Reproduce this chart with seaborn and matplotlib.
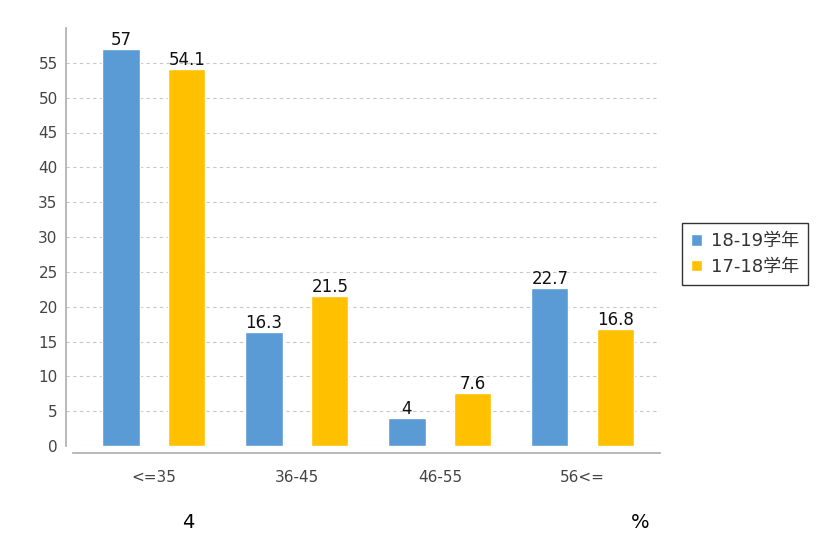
import numpy as np
import pandas as pd
import seaborn as sns
import matplotlib
matplotlib.use("Agg")
import matplotlib.pyplot as plt

# data
groups = ["<=35", "36-45", "46-55", "56<="]
series = ["18-19学年", "17-18学年"]
vals_1819 = [57, 16.3, 4, 22.7]
vals_1718 = [54.1, 21.5, 7.6, 16.8]
colors = ["#5B9BD5", "#FFC000"]

sns.set_theme(style="white")
plt.rcParams['font.family'] = ['DejaVu Sans', 'Noto Sans CJK SC']

df = pd.DataFrame({
    "group": groups * 2,
    "year": [series[0]] * 4 + [series[1]] * 4,
    "value": vals_1819 + vals_1718,
})

fig = plt.figure(figsize=(8.33, 5.51), dpi=100)
ax = fig.add_axes([66/833, 105/551, 594/833, 418/551])

sns.barplot(data=df, x="group", y="value", hue="year", order=groups,
            hue_order=series, palette=colors, width=0.92, gap=0.435,
            saturation=1, ax=ax, legend=True)

for c in ax.containers:
    ax.bar_label(c, fmt="%g", padding=0, fontsize=12, color="#111111")

ax.set_ylim(0, 60)
ax.set_xlim(-0.615, 3.54)
ax.set_yticks(np.arange(0, 56, 5))
ax.set_xlabel("")
ax.set_ylabel("")
ax.yaxis.grid(True, linestyle=(0, (3, 3)), color="#c8c8c8", linewidth=0.8)
ax.set_axisbelow(True)

for s in ["top", "right"]:
    ax.spines[s].set_visible(False)
ax.spines["left"].set_color("#b0b0b0")
ax.spines["bottom"].set_color("#b0b0b0")
ax.spines["bottom"].set_position(("outward", 5))
ax.spines["bottom"].set_bounds(-0.565, 3.54)
ax.tick_params(axis="y", length=3, color="#b0b0b0", labelsize=11, labelcolor="#444444", pad=3)
ax.tick_params(axis="x", length=4, color="#b0b0b0", labelsize=11, labelcolor="#444444", pad=8)

ax.legend(loc="center left", bbox_to_anchor=(682/833, 1 - 254/551), bbox_transform=fig.transFigure,
          frameon=True, fancybox=False, edgecolor="black", fontsize=13,
          handlelength=0.6, handleheight=0.6, handletextpad=0.5, borderpad=0.5,
          labelspacing=0.4, labelcolor="#333333", borderaxespad=0)
ax.get_legend().get_frame().set_linewidth(1.0)

fig.text(188/833, 1 - 523/551, "4", fontsize=14, ha="center", va="center", color="black")
fig.text(640/833, 1 - 523/551, "%", fontsize=14, ha="center", va="center", color="black")

fig.savefig("out.png", dpi=100)
